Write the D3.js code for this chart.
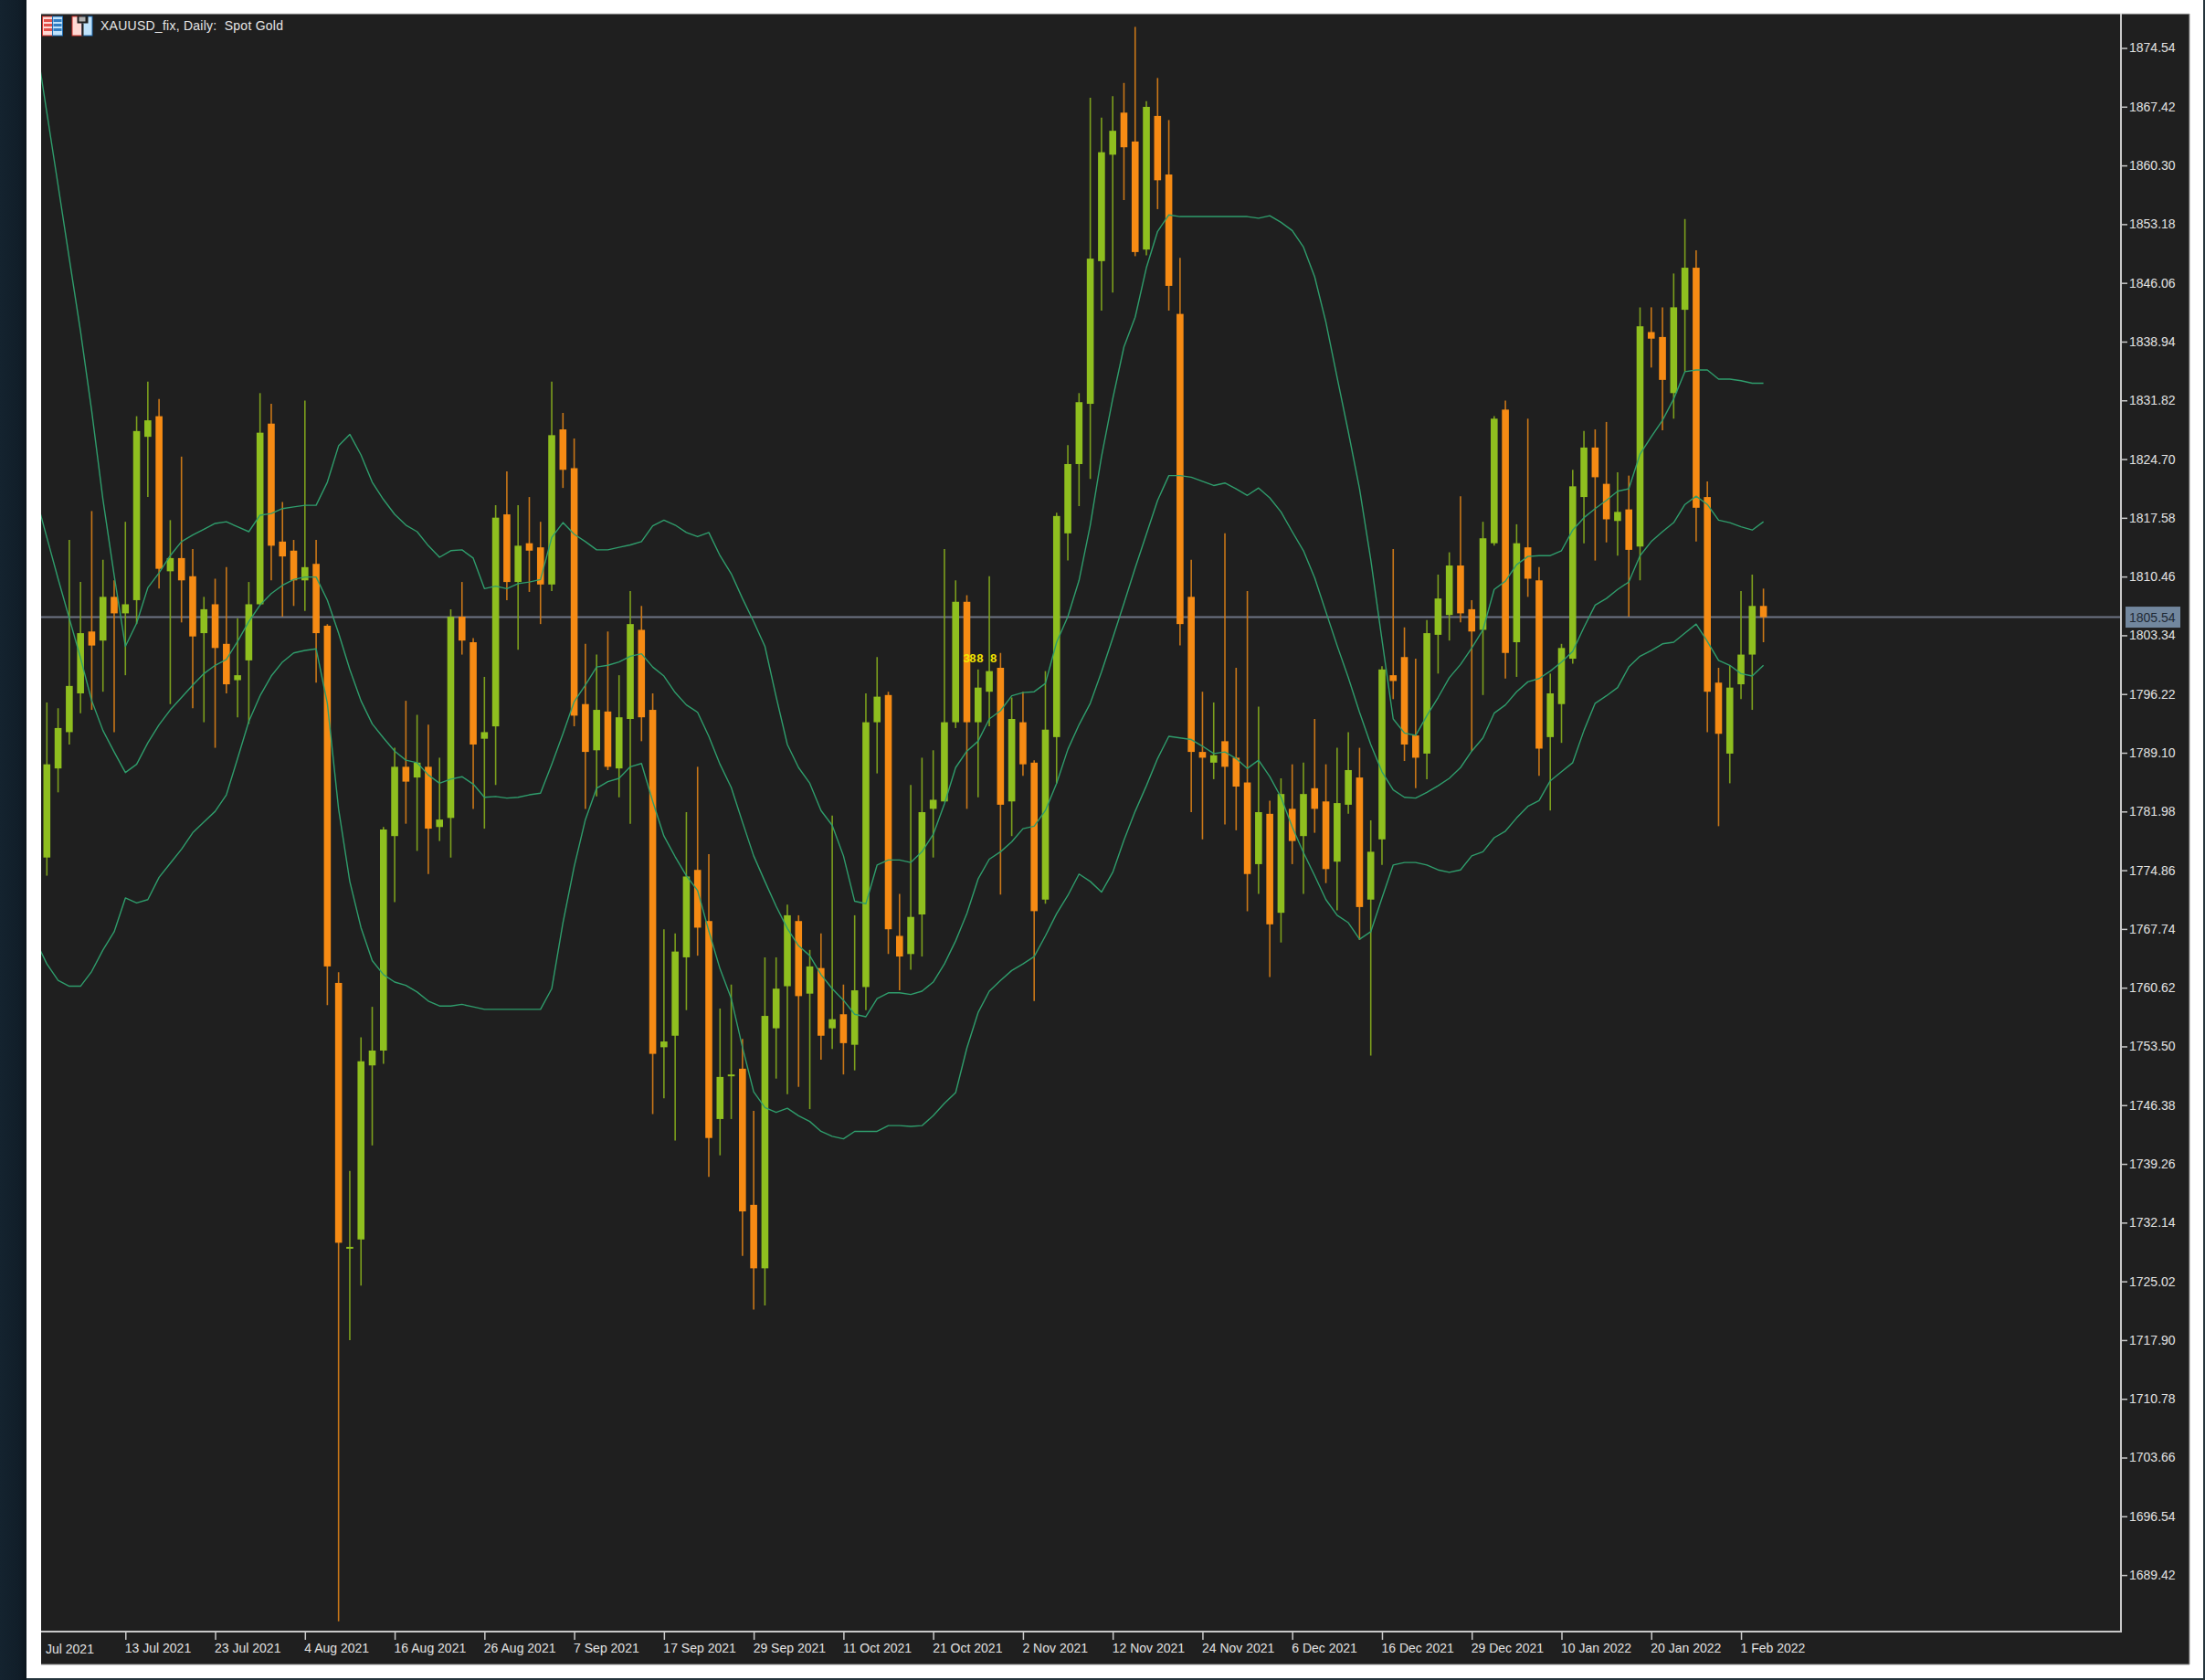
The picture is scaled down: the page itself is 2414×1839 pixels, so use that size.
<!DOCTYPE html>
<html><head><meta charset="utf-8"><title>XAUUSD_fix, Daily</title>
<script src="https://cdn.jsdelivr.net/npm/d3@7/dist/d3.min.js"></script>
<style>html,body{margin:0;padding:0;background:#fff;overflow:hidden}svg{display:block}</style></head>
<body><svg id="c" width="2414" height="1839"></svg>
<script>
const opens=[1776.4,1787.2,1791.6,1796.3,1803.8,1802.7,1808.0,1806.0,1807.6,1827.4,
1829.9,1811.1,1812.7,1810.5,1803.6,1807.1,1802.3,1797.9,1800.3,1807.1,
1829.0,1814.7,1813.6,1810.0,1812.0,1804.5,1761.2,1729.0,1730.1,1751.2,
1753.0,1779.0,1787.4,1786.1,1787.4,1780.1,1781.2,1805.6,1802.5,1790.8,
1792.3,1818.0,1809.8,1814.5,1814.0,1809.5,1828.3,1823.6,1795.0,1789.4,
1794.1,1787.2,1793.2,1804.0,1794.3,1753.4,1754.8,1764.3,1774.9,1768.7,
1744.7,1749.9,1750.8,1734.3,1726.6,1755.7,1760.8,1768.7,1759.9,1763.0,
1755.7,1757.4,1753.7,1760.7,1792.8,1796.1,1766.9,1764.7,1769.5,1782.3,
1783.2,1792.8,1807.4,1792.8,1796.5,1799.4,1783.2,1792.8,1787.9,1771.3,
1791.0,1815.7,1824.1,1831.4,1848.7,1861.6,1866.7,1863.2,1850.1,1866.3,
1859.2,1842.3,1808.0,1789.2,1787.9,1790.5,1788.5,1785.5,1775.6,1781.7,
1769.7,1782.3,1779.0,1784.8,1783.2,1775.9,1782.8,1786.1,1771.3,1778.6,
1798.5,1800.7,1791.2,1789.0,1803.4,1805.8,1811.8,1806.5,1804.0,1814.5,
1830.7,1802.5,1814.0,1810.0,1791.0,1795.0,1800.5,1820.1,1826.1,1821.7,
1817.2,1818.6,1814.1,1840.1,1839.5,1832.7,1842.8,1847.9,1820.1,1797.6,
1789.0,1797.4,1801.0,1806.9];
const highs=[1795.2,1794.5,1814.9,1809.8,1818.4,1812.5,1810.0,1817.1,1829.9,1834.1,
1832.0,1817.3,1825.0,1813.8,1808.0,1810.2,1811.6,1805.4,1809.8,1832.7,
1831.4,1819.5,1814.9,1831.8,1814.9,1804.7,1762.5,1738.4,1754.6,1758.3,
1780.1,1789.7,1795.4,1793.7,1792.5,1788.5,1806.5,1809.8,1803.0,1798.3,
1819.1,1823.2,1819.1,1820.1,1817.1,1834.1,1830.3,1827.2,1802.3,1801.0,
1803.8,1798.5,1808.7,1806.9,1796.3,1767.7,1767.2,1781.9,1787.4,1776.8,
1758.1,1761.0,1754.4,1745.7,1764.3,1764.3,1770.7,1769.4,1765.2,1767.2,
1781.5,1761.0,1769.4,1796.3,1800.7,1796.5,1772.0,1785.2,1788.5,1789.4,
1813.8,1810.0,1808.2,1799.2,1810.5,1801.2,1795.8,1796.5,1788.2,1799.0,
1818.2,1826.4,1832.7,1868.5,1866.1,1868.7,1870.3,1877.1,1868.1,1870.9,
1865.8,1849.1,1812.5,1796.5,1795.2,1815.7,1799.4,1808.7,1794.7,1783.3,
1786.0,1787.7,1787.9,1793.2,1787.7,1789.7,1791.6,1789.7,1780.9,1799.6,
1813.8,1804.3,1800.5,1805.2,1810.7,1813.4,1820.2,1807.6,1817.1,1829.9,
1831.8,1816.8,1829.6,1811.6,1798.7,1802.3,1823.4,1828.1,1828.3,1829.2,
1823.1,1822.7,1843.1,1843.1,1843.1,1847.2,1853.8,1850.0,1822.0,1799.4,
1799.7,1808.7,1810.7,1809.0];
const lows=[1774.2,1784.3,1790.1,1793.9,1794.3,1796.5,1791.6,1798.5,1804.7,1820.1,
1809.0,1795.0,1804.9,1794.5,1792.8,1789.7,1796.3,1793.4,1792.6,1807.0,
1810.0,1805.6,1806.9,1806.3,1797.6,1758.5,1683.8,1717.9,1724.5,1741.5,
1751.4,1771.0,1780.5,1777.2,1774.4,1778.4,1776.4,1801.0,1782.3,1779.9,
1785.2,1807.6,1801.6,1808.6,1804.7,1808.7,1821.2,1792.3,1782.3,1783.8,
1787.0,1783.7,1780.5,1790.5,1745.3,1747.2,1742.1,1757.9,1764.5,1737.7,
1740.3,1744.7,1728.1,1721.6,1722.1,1749.6,1747.7,1748.6,1745.9,1751.9,
1753.2,1750.1,1750.6,1757.9,1786.6,1764.7,1760.3,1762.8,1764.4,1776.4,
1783.2,1792.1,1782.3,1783.7,1792.3,1771.9,1779.0,1786.3,1759.0,1770.8,
1785.4,1812.4,1819.0,1822.3,1842.7,1844.9,1856.1,1849.3,1849.4,1855.0,
1842.7,1802.1,1781.9,1778.6,1785.9,1780.4,1779.7,1769.9,1772.0,1761.9,
1766.1,1775.6,1772.0,1779.4,1773.3,1770.0,1781.7,1766.4,1752.4,1775.5,
1795.6,1788.1,1784.8,1785.9,1798.7,1802.7,1804.9,1789.3,1796.1,1814.2,
1798.1,1798.3,1808.0,1786.3,1782.1,1790.3,1799.9,1814.5,1812.4,1814.6,
1813.0,1805.6,1810.0,1835.8,1828.2,1829.6,1835.3,1814.7,1791.6,1780.2,
1785.4,1795.6,1794.3,1802.5];
const closes=[1787.7,1792.1,1797.2,1803.6,1802.1,1808.0,1806.0,1807.1,1828.1,1829.4,
1811.4,1812.7,1810.0,1803.2,1806.5,1801.8,1797.4,1798.5,1807.1,1827.9,
1814.2,1812.9,1810.0,1811.6,1803.6,1763.2,1729.7,1729.2,1751.7,1753.0,
1779.8,1787.4,1785.6,1787.9,1779.9,1781.0,1805.6,1802.7,1790.1,1791.6,
1817.6,1809.8,1814.2,1813.6,1809.5,1827.6,1823.4,1793.6,1789.2,1794.3,
1787.4,1793.4,1804.7,1793.4,1752.6,1754.1,1765.0,1774.1,1767.9,1742.4,
1749.8,1750.1,1733.5,1726.6,1757.2,1760.5,1769.4,1759.6,1763.2,1754.8,
1756.8,1753.9,1760.3,1792.8,1795.9,1767.7,1764.4,1769.2,1781.9,1783.4,
1792.8,1807.4,1792.8,1797.0,1799.0,1782.8,1793.2,1787.7,1769.9,1791.9,
1817.8,1824.1,1831.6,1849.0,1861.9,1864.5,1862.5,1849.8,1867.4,1858.5,
1845.7,1804.7,1789.2,1788.5,1788.8,1787.4,1785.0,1774.4,1781.9,1768.3,
1784.1,1778.4,1784.1,1782.3,1775.0,1783.0,1787.0,1770.4,1777.1,1799.2,
1797.8,1790.1,1788.5,1803.6,1807.8,1811.8,1806.0,1803.8,1815.1,1829.6,
1801.2,1814.5,1810.2,1789.6,1796.3,1801.8,1821.4,1826.1,1822.5,1817.4,
1818.3,1813.7,1840.8,1839.3,1834.3,1843.1,1847.9,1818.8,1796.5,1791.4,
1797.0,1801.0,1806.9,1805.54];
// Bollinger bands: first value belongs to the bar just before the first drawn candle
const bandUpper=[1875.5,1866.7,1857.9,1849.0,1840.2,1830.5,1819.8,1810.6,1802.0,1804.8,1809.1,
1810.9,1813.0,1814.7,1815.5,1816.2,1816.9,1817.1,1816.5,1815.9,1817.9,
1818.1,1818.7,1818.9,1819.1,1819.1,1821.9,1826.3,1827.7,1825.2,1821.9,
1819.8,1818.0,1816.7,1815.9,1814.2,1812.8,1813.6,1813.7,1812.7,1809.0,
1809.3,1809.0,1809.6,1809.8,1810.1,1815.2,1817.0,1815.6,1814.7,1813.7,
1813.7,1814.0,1814.3,1814.7,1816.6,1817.3,1816.7,1815.8,1815.3,1815.8,
1813.0,1810.8,1807.8,1805.0,1802.0,1795.9,1790.1,1787.3,1785.4,1782.1,
1780.3,1776.6,1771.1,1770.8,1775.5,1776.1,1776.1,1775.8,1777.1,1779.2,
1782.9,1787.3,1789.3,1790.5,1793.2,1794.2,1796.0,1796.4,1796.5,1797.5,
1802.5,1805.6,1810.0,1816.7,1825.0,1832.0,1838.3,1841.9,1847.9,1852.3,
1854.3,1854.1,1854.1,1854.1,1854.1,1854.1,1854.1,1854.1,1853.9,1854.2,
1853.4,1852.4,1850.4,1846.8,1841.3,1834.6,1828.0,1821.1,1812.5,1802.8,
1793.2,1791.5,1791.2,1793.6,1795.8,1798.2,1799.8,1801.8,1804.0,1808.9,
1809.9,1811.9,1812.9,1813.0,1813.0,1813.6,1816.1,1817.6,1818.7,1819.7,
1820.8,1821.1,1825.3,1827.4,1829.4,1832.0,1835.3,1835.5,1835.5,1834.4,
1834.4,1834.2,1833.9,1833.9];
const bandMiddle=[1820.2,1815.2,1810.2,1805.4,1800.6,1795.4,1791.8,1789.2,1786.7,1787.7,1790.3,
1792.5,1794.3,1795.8,1797.3,1798.7,1799.7,1800.4,1802.6,1805.0,1807.0,
1808.4,1809.4,1810.1,1810.4,1810.4,1807.6,1803.6,1799.2,1795.4,1792.6,
1790.9,1789.3,1788.2,1787.9,1786.4,1785.4,1785.9,1786.2,1785.3,1783.7,
1783.8,1783.6,1783.7,1784.0,1784.2,1787.7,1791.4,1795.3,1797.3,1799.5,
1799.7,1800.1,1800.8,1801.1,1799.5,1798.4,1796.4,1794.9,1794.0,1791.1,
1787.7,1784.9,1780.7,1776.6,1773.5,1770.5,1767.8,1765.7,1764.5,1762.2,
1760.5,1759.1,1757.4,1757.1,1759.3,1760.0,1760.0,1759.8,1760.2,1761.3,
1763.5,1766.3,1769.6,1773.8,1776.2,1777.1,1778.3,1779.9,1780.2,1782.1,
1785.4,1789.5,1792.5,1795.1,1798.9,1803.0,1807.2,1811.5,1815.6,1819.7,
1822.7,1822.7,1822.5,1822.0,1821.5,1821.8,1821.1,1820.3,1821.2,1820.0,
1818.3,1815.9,1813.6,1810.3,1806.2,1802.1,1798.2,1794.0,1790.1,1786.8,
1784.6,1783.7,1783.6,1784.3,1785.1,1786.0,1787.3,1789.3,1790.9,1793.9,
1794.9,1796.5,1797.7,1798.1,1799.0,1800.1,1801.4,1804.3,1807.0,1807.8,
1808.9,1809.8,1813.0,1814.7,1815.9,1817.0,1819.2,1820.2,1819.2,1817.3,
1817.0,1816.5,1816.1,1817.1];
const bandLower=[1766.3,1763.5,1761.5,1760.8,1760.8,1762.6,1765.2,1767.4,1771.5,1770.9,1771.3,
1774.0,1775.7,1777.4,1779.4,1780.7,1782.0,1784.0,1788.4,1792.9,1796.0,
1798.4,1800.1,1801.2,1801.5,1801.7,1795.1,1782.3,1773.5,1767.9,1763.9,
1762.2,1761.3,1760.9,1760.1,1759.0,1758.4,1758.4,1758.6,1758.3,1758.0,
1758.0,1758.0,1758.0,1758.0,1758.0,1760.5,1768.5,1775.3,1781.0,1784.8,
1785.6,1786.0,1787.4,1787.8,1783.2,1779.0,1776.5,1774.2,1772.4,1767.5,
1762.9,1759.3,1753.4,1748.0,1746.1,1745.5,1746.0,1745.1,1744.4,1743.2,
1742.6,1742.3,1743.2,1743.2,1743.2,1743.9,1743.9,1743.8,1743.9,1745.1,
1746.6,1747.9,1753.3,1757.6,1760.2,1761.5,1762.7,1763.5,1764.4,1766.9,
1769.6,1771.8,1774.4,1773.5,1772.2,1774.6,1778.5,1782.0,1785.1,1788.4,
1791.1,1790.9,1790.7,1789.9,1789.0,1789.2,1788.4,1787.2,1788.2,1786.2,
1783.7,1780.1,1777.0,1774.2,1771.3,1769.4,1768.5,1766.5,1767.4,1771.5,
1775.5,1775.8,1775.8,1775.5,1774.9,1774.6,1774.9,1776.6,1777.1,1778.8,
1779.6,1781.2,1782.6,1783.3,1785.7,1786.8,1787.9,1791.8,1795.1,1796.0,
1797.0,1799.5,1800.8,1801.5,1802.3,1802.5,1803.6,1804.7,1802.6,1800.3,
1799.7,1798.7,1798.4,1799.7];
const priceTicks=[1689.42,1696.54,1703.66,1710.78,1717.90,1725.02,1732.14,1739.26,1746.38,1753.50,1760.62,1767.74,1774.86,1781.98,1789.10,1796.22,1803.34,1810.46,1817.58,1824.70,1831.82,1838.94,1846.06,1853.18,1860.30,1867.42,1874.54];
const dateTickBars=[7,15,23,31,39,47,55,63,71,79,87,95,103,111,119,127,135,143,151];
const dateTickLabels=["13 Jul 2021","23 Jul 2021","4 Aug 2021","16 Aug 2021","26 Aug 2021","7 Sep 2021","17 Sep 2021","29 Sep 2021","11 Oct 2021","21 Oct 2021","2 Nov 2021","12 Nov 2021","24 Nov 2021","6 Dec 2021","16 Dec 2021","29 Dec 2021","10 Jan 2022","20 Jan 2022","1 Feb 2022"];
const firstDateLabel="Jul 2021";
const lastPrice=1805.54;
const title="XAUUSD_fix, Daily:  Spot Gold";
const yellowMarks=[["3",81.65],["8",82.2],["8",82.85],["8",84.05]];
const yellowPrice=1800.07;

const W=2414,H=1839,L=45,T=15,R=2322,B=1786,PR=2397,PB=1822;
const FONT='"Liberation Sans",Arial,sans-serif';
const UP='#8fbf1f',DOWN='#f68b14',UPW='#7c9f1d',DOWNW='#c97718',BAND='#2f9d6c',AX='#c9c9c9',TXT='#e2e2e2';
const x=d3.scaleLinear().domain([0,153]).range([51.3,51.3+12.283*153]);
const y=d3.scaleLinear().domain([1874.54,1689.42]).range([52.5,1724.1]);
const svg=d3.select('#c');
const defs=svg.append('defs');
const g1=defs.append('linearGradient').attr('id','strip');
g1.append('stop').attr('offset','0').attr('stop-color','#14232f');
g1.append('stop').attr('offset','0.7').attr('stop-color','#111e29');
g1.append('stop').attr('offset','1').attr('stop-color','#0c161d');
defs.append('clipPath').attr('id','plot').append('rect').attr('x',L).attr('y',T).attr('width',R-L).attr('height',B-T);

svg.append('rect').attr('width',W).attr('height',H).attr('fill','#fff');
svg.append('rect').attr('width',29).attr('height',H).attr('fill','url(#strip)');
svg.append('rect').attr('x',29).attr('y',H-2).attr('width',W-29).attr('height',2).attr('fill','#25343c');
svg.append('rect').attr('x',W-2).attr('width',2).attr('height',H).attr('fill','#25343c');
svg.append('rect').attr('x',L).attr('y',T).attr('width',PR-L).attr('height',PB-T).attr('fill','#1f1f1f');

const plot=svg.append('g').attr('clip-path','url(#plot)');
const bars=d3.range(opens.length);
const isUp=i=>closes[i]>=opens[i];
const bandLine=d3.line().x((d,i)=>x(i-1)).y(d=>y(d));
// last price line
plot.append('line').attr('x1',L).attr('x2',R).attr('y1',y(lastPrice)).attr('y2',y(lastPrice)).attr('stroke','#6e7484').attr('stroke-width',2);
// candles
const c=plot.selectAll('g.c').data(bars).join('g').attr('class','c');
c.append('line').attr('x1',x).attr('x2',x).attr('y1',i=>y(highs[i])).attr('y2',i=>y(lows[i]))
  .attr('stroke',i=>isUp(i)?UPW:DOWNW).attr('stroke-width',1.6);
c.append('rect').attr('x',i=>x(i)-3.8).attr('width',7.6)
  .attr('y',i=>y(Math.max(opens[i],closes[i])))
  .attr('height',i=>Math.max(2,Math.abs(y(opens[i])-y(closes[i]))))
  .attr('fill',i=>isUp(i)?UP:DOWN);
// bands lie on top of the candles
[bandUpper,bandMiddle,bandLower].forEach(s=>{
  plot.append('path').attr('d',bandLine(s)).attr('fill','none').attr('stroke',BAND).attr('stroke-width',1.4).attr('stroke-linejoin','round');
});
// yellow object labels
plot.selectAll('text.y').data(yellowMarks).join('text').attr('class','y')
  .attr('x',d=>x(d[1])).attr('y',y(yellowPrice)).text(d=>d[0])
  .attr('font-family','"Liberation Mono",monospace').attr('font-size',13).attr('font-weight','bold').attr('fill','#f5e400');

// axes
const yAxis=d3.axisRight(y).tickValues(priceTicks).tickFormat(d3.format('.2f')).tickSize(7).tickPadding(2);
const yG=svg.append('g').attr('transform',`translate(${R},0)`).call(yAxis);
yG.select('.domain').remove();
yG.selectAll('line').attr('stroke',AX).attr('stroke-width',1.5);
yG.selectAll('text').attr('font-family',FONT).attr('font-size',14).attr('fill',TXT);
const xAxis=d3.axisBottom(x).tickValues(dateTickBars).tickFormat((d,i)=>dateTickLabels[i]).tickSize(9).tickPadding(4);
const xG=svg.append('g').attr('transform',`translate(0,${B})`).call(xAxis);
xG.select('.domain').remove();
xG.selectAll('line').attr('stroke',AX).attr('stroke-width',1.5);
xG.selectAll('text').attr('text-anchor','start').attr('font-family',FONT).attr('font-size',14).attr('fill',TXT).attr('dx',-1);
svg.append('text').attr('x',x(-1)+11).attr('y',1811).attr('dy',-1).text(firstDateLabel).attr('font-family',FONT).attr('font-size',14).attr('fill',TXT);
svg.append('line').attr('x1',R).attr('x2',R).attr('y1',T).attr('y2',B+1).attr('stroke',AX).attr('stroke-width',2);
svg.append('line').attr('x1',L).attr('x2',R+1).attr('y1',B).attr('y2',B).attr('stroke',AX).attr('stroke-width',2);
svg.append('line').attr('x1',L).attr('x2',PR).attr('y1',T).attr('y2',T).attr('stroke','#d9d9d9').attr('stroke-width',1);
svg.append('line').attr('x1',L).attr('x2',PR).attr('y1',PB).attr('y2',PB).attr('stroke','#9a9a9a').attr('stroke-width',1);
svg.append('line').attr('x1',PR).attr('x2',PR).attr('y1',T).attr('y2',PB).attr('stroke','#9a9a9a').attr('stroke-width',1);

// price tag
svg.append('rect').attr('x',R+5).attr('y',y(lastPrice)-11.5).attr('width',60).attr('height',23).attr('fill','#72879e');
svg.append('text').attr('x',R+9).attr('y',y(lastPrice)+5).text(d3.format('.2f')(lastPrice)).attr('font-family',FONT).attr('font-size',14).attr('fill','#1f2a36');

// title + icons
function icon(ox,top){
  const ig=svg.append('g').attr('transform',`translate(${ox},17.5)`);
  ig.append('rect').attr('x',.5).attr('y',.5).attr('width',11).attr('height',21).attr('fill','#ffd9d4').attr('stroke','#d2332d');
  ig.append('rect').attr('x',11.5).attr('y',.5).attr('width',11).attr('height',21).attr('fill','#bfe2fb').attr('stroke','#1f6bb0');
  if(top){
    [5,10,15].forEach(v=>{
      ig.append('rect').attr('x',2).attr('y',v-1.5).attr('width',9).attr('height',3).attr('fill','#e2504a');
      ig.append('rect').attr('x',12.5).attr('y',v-1.5).attr('width',9).attr('height',3).attr('fill','#2f7cc2');
    });
  }else{
    ig.append('rect').attr('x',6).attr('y',0).attr('width',12).attr('height',8).attr('fill','#1f1f1f');
    ig.append('rect').attr('x',8).attr('y',1).attr('width',7).attr('height',5).attr('fill','#b0b0b0');
    ig.append('rect').attr('x',11).attr('y',8).attr('width',2).attr('height',14).attr('fill','#1f1f1f');
  }
}
icon(46,true);icon(78.5,false);
svg.append('text').attr('x',110).attr('y',33).text(title).style('white-space','pre').attr('textLength',200).attr('lengthAdjust','spacing').attr('font-family',FONT).attr('font-size',14).attr('fill','#e6e6e6');
</script></body></html>
